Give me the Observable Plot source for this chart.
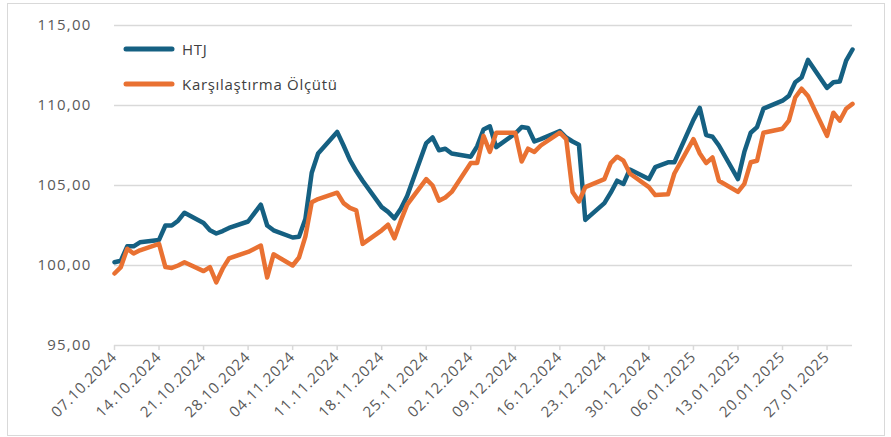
<!DOCTYPE html>
<html>
<head>
<meta charset="utf-8">
<script src="https://cdn.jsdelivr.net/npm/d3@7"></script>
<script src="https://cdn.jsdelivr.net/npm/@observablehq/plot@0.6"></script>
<style>
  body { margin: 0; background: #fff; font-family: "Open Sans", sans-serif; }
  #wrap { position: relative; width: 891px; height: 437px; overflow: hidden; }
  #border { position: absolute; left: 7px; top: 3px; width: 878px; height: 433px; border: 1px solid #d9d9d9; box-sizing: border-box; pointer-events: none; }
  #legend { position: absolute; left: 123px; top: 37px; font-size: 15px; color: #404040; letter-spacing: 0.7px; }
  .item { display: flex; align-items: center; height: 24px; margin-bottom: 11px; }
  .item svg { margin-right: 7px; }
  #chart g[aria-label="y-axis tick label"] text { letter-spacing: 1.2px; }
  #chart g[aria-label="x-axis tick label"] text { letter-spacing: 0.9px; }
</style>
</head>
<body>
<div id="wrap">
  <div id="chart"></div>
  <div id="legend"></div>
  <div id="border"></div>
</div>
<script>
// ---- data ----
const dates = [
  "2024-10-07","2024-10-08","2024-10-09","2024-10-10","2024-10-11",
  "2024-10-14","2024-10-15","2024-10-16","2024-10-17","2024-10-18",
  "2024-10-21","2024-10-22","2024-10-23","2024-10-24","2024-10-25",
  "2024-10-28","2024-10-30","2024-10-31","2024-11-01",
  "2024-11-04","2024-11-05","2024-11-06","2024-11-07","2024-11-08",
  "2024-11-11","2024-11-12","2024-11-13","2024-11-14","2024-11-15",
  "2024-11-18","2024-11-19","2024-11-20","2024-11-21","2024-11-22",
  "2024-11-25","2024-11-26","2024-11-27","2024-11-28","2024-11-29",
  "2024-12-02","2024-12-03","2024-12-04","2024-12-05","2024-12-06",
  "2024-12-09","2024-12-10","2024-12-11","2024-12-12","2024-12-13",
  "2024-12-16","2024-12-17","2024-12-18","2024-12-19","2024-12-20",
  "2024-12-23","2024-12-24","2024-12-25","2024-12-26","2024-12-27",
  "2024-12-30","2024-12-31","2025-01-02","2025-01-03",
  "2025-01-06","2025-01-07","2025-01-08","2025-01-09","2025-01-10",
  "2025-01-13","2025-01-14","2025-01-15","2025-01-16","2025-01-17",
  "2025-01-20","2025-01-21","2025-01-22","2025-01-23","2025-01-24",
  "2025-01-27","2025-01-28","2025-01-29","2025-01-30","2025-01-31"
];
const htj = [
  100.2, 100.3, 101.2, 101.2, 101.45,
  101.6, 102.5, 102.5, 102.8, 103.3,
  102.65, 102.2, 102.0, 102.15, 102.35,
  102.75, 103.8, 102.5, 102.2,
  101.75, 101.8, 102.9, 105.8, 107.0,
  108.35, 107.5, 106.6, 105.9, 105.3,
  103.65, 103.35, 102.95, 103.55, 104.35,
  107.65, 108.0, 107.2, 107.3, 107.0,
  106.8, 107.45, 108.5, 108.7, 107.4,
  108.25, 108.65, 108.6, 107.75, 107.9,
  108.4, 108.0, 107.75, 107.55, 102.85,
  103.9, 104.55, 105.3, 105.1, 106.0,
  105.4, 106.15, 106.45, 106.45,
  109.1, 109.85, 108.15, 108.05, 107.5,
  105.4, 107.1, 108.3, 108.65, 109.8,
  110.3, 110.6, 111.45, 111.75, 112.85,
  111.1, 111.45, 111.5, 112.8, 113.5
];
const benchmark = [
  99.5, 99.9, 101.05, 100.75, 100.95,
  101.35, 99.9, 99.85, 100.0, 100.2,
  99.65, 99.9, 98.95, 99.8, 100.45,
  100.85, 101.25, 99.25, 100.7,
  100.0, 100.5, 101.8, 103.95, 104.15,
  104.55, 103.9, 103.6, 103.45, 101.35,
  102.2, 102.55, 101.7, 102.8, 103.8,
  105.4, 105.0, 104.05, 104.25, 104.6,
  106.4, 106.4, 108.1, 107.1, 108.3,
  108.3, 106.5, 107.3, 107.1, 107.5,
  108.3, 107.9, 104.6, 104.0, 104.9,
  105.4, 106.4, 106.8, 106.55, 105.75,
  104.9, 104.4, 104.45, 105.75,
  107.9, 107.0, 106.4, 106.75, 105.3,
  104.6, 105.1, 106.45, 106.55, 108.3,
  108.55, 109.05, 110.5, 111.05, 110.6,
  108.1, 109.55, 109.05, 109.8, 110.1
];
const seriesNames = ["HTJ", "Karşılaştırma Ölçütü"];
const seriesColors = ["#156082", "#E97132"];
const xTickLabels = [
  "07.10.2024","14.10.2024","21.10.2024","28.10.2024","04.11.2024","11.11.2024",
  "18.11.2024","25.11.2024","02.12.2024","09.12.2024","16.12.2024","23.12.2024",
  "30.12.2024","06.01.2025","13.01.2025","20.01.2025","27.01.2025"
];
const yTicks = [95, 100, 105, 110, 115];

// ---- build ----
const parseISO = d3.utcParse("%Y-%m-%d");
const parseTick = d3.utcParse("%d.%m.%Y");
const fmtTick = d3.utcFormat("%d.%m.%Y");
const htjRows = dates.map((d, i) => ({date: parseISO(d), value: htj[i]}));
const benchRows = dates.map((d, i) => ({date: parseISO(d), value: benchmark[i]}));
const xTicks = xTickLabels.map(parseTick);
const fmtY = d => d3.format(".2f")(d).replace(".", ",");

const chart = Plot.plot({
  width: 891,
  height: 437,
  marginLeft: 114,
  marginRight: 39,
  marginTop: 25,
  marginBottom: 92,
  style: {fontFamily: "Open Sans, sans-serif", background: "transparent"},
  x: {type: "utc", domain: [parseISO(dates[0]), parseISO(dates[dates.length - 1])]},
  y: {domain: [95, 115]},
  marks: [
    Plot.gridY(yTicks, {stroke: "#d9d9d9", strokeOpacity: 1, strokeWidth: 1.5}),
    Plot.axisY(yTicks, {tickSize: 0, tickPadding: 23, tickFormat: fmtY, fontSize: 15, fill: "#595959", label: null}),
    Plot.axisX(xTicks, {tickFormat: fmtTick, tickRotate: -45, tickSize: 5, tickPadding: 4,
      stroke: "#d9d9d9", strokeWidth: 1.5, fill: "#595959", fontSize: 15, label: null}),
    Plot.line(htjRows, {x: "date", y: "value", stroke: seriesColors[0], strokeWidth: 4.5, strokeLinejoin: "round", strokeLinecap: "round"}),
    Plot.line(benchRows, {x: "date", y: "value", stroke: seriesColors[1], strokeWidth: 4.5, strokeLinejoin: "round", strokeLinecap: "round"})
  ]
});
document.getElementById("chart").appendChild(chart);

const legend = document.getElementById("legend");
seriesNames.forEach((name, i) => {
  const item = document.createElement("div");
  item.className = "item";
  item.innerHTML = `<svg width="52" height="8"><line x1="3" y1="4" x2="49" y2="4" stroke="${seriesColors[i]}" stroke-width="5" stroke-linecap="round"/></svg><span>${name}</span>`;
  legend.appendChild(item);
});
</script>
</body>
</html>
